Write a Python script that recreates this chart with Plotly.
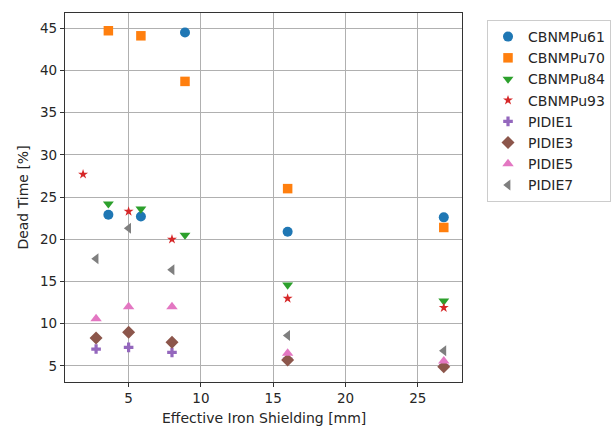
import plotly.graph_objects as go

series_names = ["CBNMPu61", "CBNMPu70", "CBNMPu84", "CBNMPu93", "PIDIE1", "PIDIE3", "PIDIE5", "PIDIE7"]

x_cbnm = [3.6, 5.85, 8.9, 16.0, 26.8]
x_pu93 = [1.85, 5.0, 8.0, 16.0, 26.8]
x_pidie = [2.75, 5.0, 8.0, 16.0, 26.8]

y_pu61 = [22.9, 22.7, 44.5, 20.9, 22.6]
y_pu70 = [44.7, 44.1, 38.7, 26.0, 21.4]
y_pu84 = [24.2, 23.6, 20.5, 14.6, 12.7]
y_pu93 = [27.7, 23.3, 20.0, 13.0, 11.9]
y_pidie1 = [7.0, 7.2, 6.6, 5.8, 5.0]
y_pidie3 = [8.3, 9.0, 7.8, 5.7, 4.9]
y_pidie5 = [10.6, 12.0, 12.0, 6.5, 5.6]
y_pidie7 = [17.7, 21.3, 16.4, 8.6, 6.8]

x_ticks = [5, 10, 15, 20, 25]
y_ticks = [5, 10, 15, 20, 25, 30, 35, 40, 45]

xs = [x_cbnm, x_cbnm, x_cbnm, x_pu93, x_pidie, x_pidie, x_pidie, x_pidie]
ys = [y_pu61, y_pu70, y_pu84, y_pu93, y_pidie1, y_pidie3, y_pidie5, y_pidie7]
colors = ["#1f77b4", "#ff7f0e", "#2ca02c", "#d62728", "#9467bd", "#8c564b", "#e377c2", "#7f7f7f"]
symbols = ["circle", "square", "triangle-down", "star", "cross", "diamond", "triangle-up", "triangle-left"]
sizes = [10, 9.5, 9.5, 7.5, 8, 10, 10, 9.5]

FONT = "DejaVu Sans"
TXT = "#262626"

fig = go.Figure()
for name, x, y, c, s, sz in zip(series_names, xs, ys, colors, symbols, sizes):
    fig.add_trace(go.Scatter(
        x=x, y=y, mode="markers", name=name,
        marker=dict(color=c, symbol=s, size=sz, line=dict(width=0)),
    ))

axis_common = dict(
    showgrid=True, gridcolor="#b0b0b0", gridwidth=1.2,
    showline=True, linecolor="#333333", linewidth=1.3, mirror=True,
    ticks="outside", ticklen=4, tickcolor="#333333", tickwidth=1.2,
    zeroline=False, automargin=False,
    tickfont=dict(family=FONT, size=13.5, color=TXT),
)

fig.update_layout(
    width=616, height=426,
    margin=dict(l=65, r=154, t=13, b=44, autoexpand=False),
    paper_bgcolor="white", plot_bgcolor="white",
    font=dict(family=FONT, size=13.5, color=TXT),
    xaxis=dict(range=[0.6, 28.06], tickvals=x_ticks, **axis_common),
    yaxis=dict(range=[3.1, 46.8], tickvals=y_ticks, **axis_common),
    legend=dict(xref="container", yref="container", x=0.7906, y=0.953,
                xanchor="left", yanchor="top",
                bordercolor="#cccccc", borderwidth=1, bgcolor="white",
                font=dict(family=FONT, size=14, color=TXT)),
    showlegend=True,
    annotations=[
        dict(text="Effective Iron Shielding [mm]", xref="paper", yref="paper",
             x=0.5, y=-0.0976, xanchor="center", yanchor="middle", showarrow=False,
             font=dict(family=FONT, size=14, color=TXT)),
        dict(text="Dead Time [%]", xref="paper", yref="paper", textangle=-90,
             x=-0.108, y=0.5, xanchor="center", yanchor="middle", showarrow=False,
             font=dict(family=FONT, size=14, color=TXT)),
    ],
)

fig.write_html("out.html")
